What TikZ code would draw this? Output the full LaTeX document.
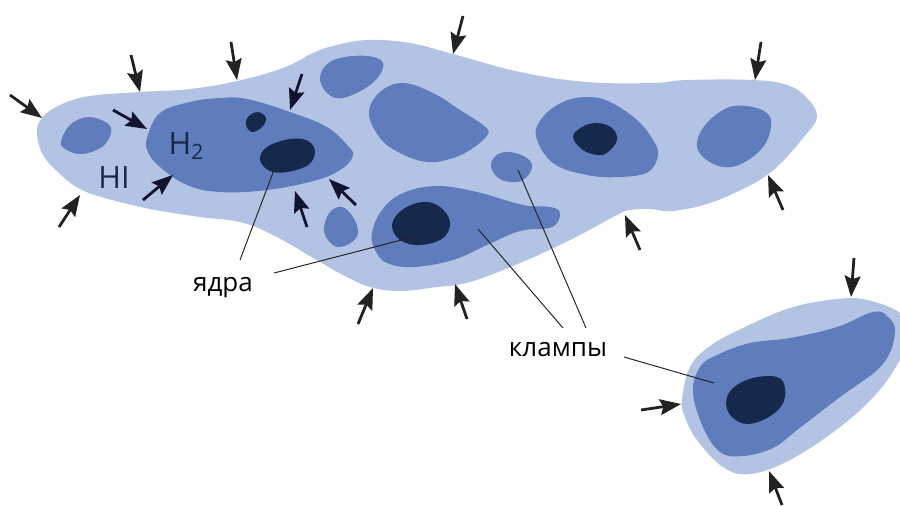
\documentclass[tikz,border=0pt]{standalone}
\usepackage{fontspec}
\setmainfont{Open Sans}
\usepackage{tikz}
\usetikzlibrary{arrows.meta}
\definecolor{hione}{HTML}{B3C3E3}
\definecolor{hmol}{HTML}{5F7DBC}
\definecolor{hcore}{HTML}{16294D}
\definecolor{inkgray}{HTML}{222222}
\definecolor{inknavy}{HTML}{11132F}
\tikzset{
  gas/.style={smooth cycle,tension=0.65},
  push/.style={line width=1.6pt,inkgray,-{Stealth[length=12pt,width=9pt,inset=1.8pt]}},
  pushin/.style={push,inknavy},
  leader/.style={line width=0.55pt,inkgray},
  lbl/.style={font=\fontsize{14.8}{16}\selectfont,text=black,inner sep=0pt},
  gaslbl/.style={font=\fontsize{17.5}{18}\selectfont,text=hcore,inner sep=0pt}
}
\begin{document}
\begin{tikzpicture}[x=0.02cm,y=-0.02cm]
  \useasboundingbox (0,0) rectangle (900,505);

  % Large cloud
  \fill[hione] plot[gas] coordinates {(37,133) (42,118) (60,105) (90,96) (140,92) (190,89)
    (237,81) (283,68) (313,53) (333,46) (367,40) (410,43) (453,54) (520,72) (587,82) (653,83)
    (687,80) (753,80) (787,85) (807,98) (817,117) (803,138) (783,161) (767,175) (747,187) (710,203)
    (673,211) (650,209) (630,210) (617,215) (570,240) (520,263) (470,282) (437,287)
    (400,291) (370,287) (343,275) (320,262) (273,235) (240,222) (200,217) (150,209)
    (105,198) (80,189) (60,174) (43,155)};

  % Clumps
  \fill[hmol] plot[gas] coordinates {(147,138) (160,113) (190,102) (220,98) (247,99) (290,112)
    (327,127) (347,145) (353,155) (343,168) (317,180) (267,190) (220,192) (187,185)
    (160,167) (148,152)};
  \fill[hmol] plot[gas] coordinates {(61,142) (70,125) (88,117) (107,123) (111,133) (102,147)
    (82,154) (67,150)};
  \fill[hmol] plot[gas] coordinates {(320,77) (330,62) (353,56) (377,58) (383,68) (370,85)
    (343,98) (327,93)};
  \fill[hmol] plot[gas] coordinates {(369,113) (380,92) (403,83) (433,93) (460,110) (483,125)
    (488,134) (473,148) (453,158) (427,162) (400,153) (380,138)};
  \fill[hmol] plot[gas] coordinates {(491,165) (497,155) (510,152) (527,158) (532,168) (523,180)
    (510,182) (497,177)};
  \fill[hmol] plot[gas] coordinates {(536,136) (543,117) (563,102) (587,97) (610,102) (637,120)
    (653,140) (658,155) (648,172) (620,177) (587,175) (553,163)};
  \fill[hmol] plot[gas] coordinates {(697,142) (707,123) (727,108) (747,106) (767,113) (771,127)
    (763,147) (743,163) (723,167) (703,157)};
  \fill[hmol] plot[gas] coordinates {(324,228) (330,212) (342,207) (353,217) (358,232) (352,242)
    (338,247) (328,240)};
  \fill[hmol] plot[gas] coordinates {(372,233) (382,210) (403,193) (437,186) (477,192) (523,205)
    (550,207) (560,213) (552,227) (520,231) (487,245) (453,260) (413,267) (387,263) (375,250)};

  % Cores
  \fill[hcore] plot[gas] coordinates {(246,125) (248,117) (258,112) (266,118) (262,127) (252,132)};
  \fill[hcore] plot[gas] coordinates {(260,160) (267,147) (290,139) (308,141) (315,152) (308,165)
    (287,172) (270,171)};
  \fill[hcore] plot[gas] coordinates {(573,137) (582,127) (597,123) (612,128) (617,140) (608,152)
    (598,155) (583,150)};
  \fill[hcore] plot[gas] coordinates {(392,225) (402,210) (423,202) (440,207) (450,222) (443,238)
    (420,245) (400,240)};

  % Small cloud
  \fill[hione] plot[gas] coordinates {(682,400) (690,367) (710,346) (743,328) (790,308) (837,299)
    (867,300) (900,313) (912,335) (900,360) (877,393) (840,427) (790,460) (750,474)
    (723,467) (697,440) (685,417)};
  \fill[hmol] plot[gas] coordinates {(693,392) (700,367) (717,355) (750,343) (790,338) (837,327)
    (873,312) (888,317) (895,333) (882,365) (840,397) (797,430) (773,448) (743,456)
    (720,452) (703,427)};
  \fill[hcore] plot[gas] coordinates {(726,403) (733,388) (753,378) (777,377) (785,388) (782,405)
    (767,418) (747,424) (732,417)};

  % Coordinates
  \coordinate (A1) at (10,95);    \coordinate (A2) at (42,118);
  \coordinate (B1) at (131,55);   \coordinate (B2) at (140,92);
  \coordinate (C1) at (231,42);   \coordinate (C2) at (237,80);
  \coordinate (D1) at (463,16);   \coordinate (D2) at (453,54);
  \coordinate (E1) at (761,42);   \coordinate (E2) at (755,80);
  \coordinate (F1) at (59,227);   \coordinate (F2) at (80,195);
  \coordinate (G1) at (358,324);  \coordinate (G2) at (373,288);
  \coordinate (H1) at (467,319);  \coordinate (H2) at (455,284);
  \coordinate (I1) at (640,250);  \coordinate (I2) at (625,215);
  \coordinate (J1) at (783,210);  \coordinate (J2) at (768,175);
  \coordinate (K1) at (854,258);  \coordinate (K2) at (851,297);
  \coordinate (L1) at (641,410);  \coordinate (L2) at (681,404);
  \coordinate (M1) at (782,505);  \coordinate (M2) at (769,471);
  \coordinate (N1) at (113,110);  \coordinate (N2) at (147,129);
  \coordinate (O1) at (302,74);   \coordinate (O2) at (290,110);
  \coordinate (P1) at (143,200);  \coordinate (P2) at (173,175);
  \coordinate (Q1) at (356,205);  \coordinate (Q2) at (329,179);
  \coordinate (R1) at (307,227);  \coordinate (R2) at (295,191);
  \coordinate (S1) at (240,260);  \coordinate (S2) at (274,170);
  \coordinate (T1) at (274,273);  \coordinate (T2) at (417,236);
  \coordinate (U1) at (563,328);  \coordinate (U2) at (478,229);
  \coordinate (V1) at (586,328);  \coordinate (V2) at (518,170);
  \coordinate (W1) at (624,357);  \coordinate (W2) at (714,383);

  % Drawing
  \draw[push] (A1) -- (A2);
  \draw[push] (B1) -- (B2);
  \draw[push] (C1) -- (C2);
  \draw[push] (D1) -- (D2);
  \draw[push] (E1) -- (E2);
  \draw[push] (F1) -- (F2);
  \draw[push] (G1) -- (G2);
  \draw[push] (H1) -- (H2);
  \draw[push] (I1) -- (I2);
  \draw[push] (J1) -- (J2);
  \draw[push] (K1) -- (K2);
  \draw[push] (L1) -- (L2);
  \draw[push] (M1) -- (M2);
  \draw[pushin] (N1) -- (N2);
  \draw[pushin] (O1) -- (O2);
  \draw[pushin] (P1) -- (P2);
  \draw[pushin] (Q1) -- (Q2);
  \draw[pushin] (R1) -- (R2);
  \draw[leader] (S1) -- (S2);
  \draw[leader] (T1) -- (T2);
  \draw[leader] (U1) -- (U2);
  \draw[leader] (V1) -- (V2);
  \draw[leader] (W1) -- (W2);
  \node[lbl] (yadra) at (223,288) {ядра};
  \node[lbl] (klampy) at (558,350) {клампы};
  \node[gaslbl] (hi) at (114,178) {HI};
  \node[gaslbl] (htwo) at (186,146) {H\raisebox{-3pt}{\fontsize{12}{12}\selectfont 2}};
\end{tikzpicture}
\end{document}
